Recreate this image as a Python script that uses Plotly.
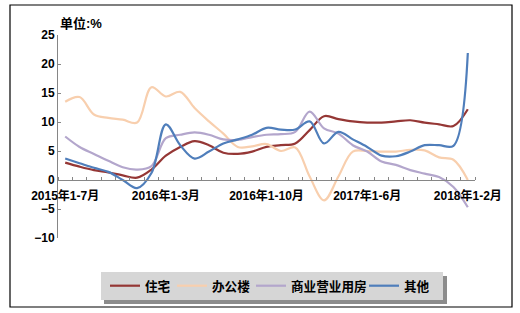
import plotly.graph_objects as go

months = (
    [f"2015年1-{m}月" for m in range(7, 13)]
    + [f"2016年1-{m}月" for m in range(2, 13)]
    + [f"2017年1-{m}月" for m in range(2, 13)]
    + ["2018年1-2月"]
)

residential = [3.0, 2.3, 1.7, 1.3, 0.8, 0.4, 1.8, 4.2, 5.7, 6.7, 6.0, 4.7, 4.5, 4.9, 5.7,
               6.0, 6.3, 8.6, 11.0, 10.5, 10.1, 9.9, 9.9, 10.1, 10.3, 9.9, 9.6, 9.3, 12.2]
office = [13.5, 14.3, 11.3, 10.7, 10.4, 9.9, 16.0, 14.4, 15.2, 12.4, 10.1, 8.0, 5.7, 5.8, 6.2,
          5.0, 5.6, 0.6, -3.5, 0.6, 4.9, 5.0, 4.9, 4.9, 5.2, 5.1, 3.9, 3.5, 0.0]
commercial = [7.5, 5.7, 4.5, 3.3, 2.2, 1.8, 2.4, 7.2, 7.8, 8.2, 7.8, 7.0, 6.9, 7.4, 7.8,
              7.9, 8.3, 11.8, 8.9, 8.0, 6.0, 4.9, 3.2, 2.6, 1.7, 1.1, 0.5, -1.2, -4.7]
other = [3.7, 2.9, 2.1, 1.4, 0.0, -1.4, 1.2, 9.6, 6.0, 3.7, 4.9, 6.3, 7.0, 7.8, 9.0,
         8.7, 8.7, 10.1, 6.3, 8.3, 7.0, 5.7, 4.2, 4.1, 4.9, 6.0, 6.0, 5.9, 21.9]

series = [
    ("住宅", residential, "#953735"),
    ("办公楼", office, "#F8CFAE"),
    ("商业营业用房", commercial, "#B3A6CC"),
    ("其他", other, "#4F7EBB"),
]

tick_idx = list(range(0, len(months), 7))
xs = list(range(len(months)))

FONT = "Liberation Sans, Arial, 'Noto Sans CJK SC', sans-serif"

# plot area geometry (pixels)
L, R, T, B = 58, 475, 35, 238
W, H = R - L, B - T


def px(x):
    return (x - L) / W


def py(y):
    return (B - y) / H


legend_names = ["legend", "legend2", "legend3", "legend4"]
legend_left_px = [105, 172, 251, 364]

fig = go.Figure()
for (name, vals, color), lg in zip(series, legend_names):
    fig.add_trace(go.Scatter(
        x=xs, y=vals, name=name, mode="lines", legend=lg,
        line=dict(color=color, width=2.2, shape="spline", smoothing=1.0),
    ))

shapes = [
    # outer frame
    dict(type="rect", xref="paper", yref="paper", x0=px(10), x1=px(512), y0=py(307), y1=py(5),
         line=dict(color="#000000", width=1.2), fillcolor="rgba(0,0,0,0)", layer="below"),
    # legend shadow
    dict(type="rect", xref="paper", yref="paper", x0=px(104), x1=px(447), y0=py(304), y1=py(276),
         line=dict(width=0), fillcolor="#8C8C8C", layer="below"),
    # legend box
    dict(type="rect", xref="paper", yref="paper", x0=px(101), x1=px(443), y0=py(300), y1=py(272),
         line=dict(width=0), fillcolor="#D6D6D6", layer="below"),
]

layout_legends = {}
for lg, lx in zip(legend_names, legend_left_px):
    layout_legends[lg] = dict(
        orientation="h", x=px(lx), y=py(286), xanchor="left", yanchor="middle",
        bgcolor="rgba(0,0,0,0)", font=dict(size=12.6, weight="bold", family=FONT),
        itemwidth=30,
    )

fig.update_layout(
    width=520, height=313, autosize=False,
    margin=dict(l=L, r=520 - R, t=T, b=313 - B),
    paper_bgcolor="white", plot_bgcolor="white",
    font=dict(family=FONT, size=12, color="#000000"),
    showlegend=True,
    shapes=shapes,
    annotations=[
        dict(text="单位:%", xref="paper", yref="paper", x=0, y=py(24), xanchor="left",
             yanchor="middle", showarrow=False, font=dict(size=13, weight="bold", family=FONT)),
    ],
    **layout_legends,
)

fig.update_xaxes(
    range=[-0.5, len(months) - 0.5],
    tickmode="array", tickvals=tick_idx, ticktext=[months[i] for i in tick_idx],
    ticks="", showgrid=False, zeroline=False,
    showline=True, linecolor="#868686", linewidth=1,
    anchor="free", position=10 / 35,
    tickfont=dict(size=12, weight="bold", family=FONT),
    ticklabelstandoff=5,
    minor=dict(tickmode="linear", tick0=-0.5, dtick=1, ticks="inside", ticklen=3,
               tickcolor="#868686", showgrid=False),
)
fig.update_yaxes(
    range=[-10, 25], dtick=5, tick0=0,
    ticks="inside", ticklen=3, tickcolor="#868686",
    showgrid=False, zeroline=False,
    showline=True, linecolor="#868686", linewidth=1,
    tickfont=dict(size=12, weight="bold", family=FONT),
    domain=[0, 1],
)

fig.write_html("out.html")
